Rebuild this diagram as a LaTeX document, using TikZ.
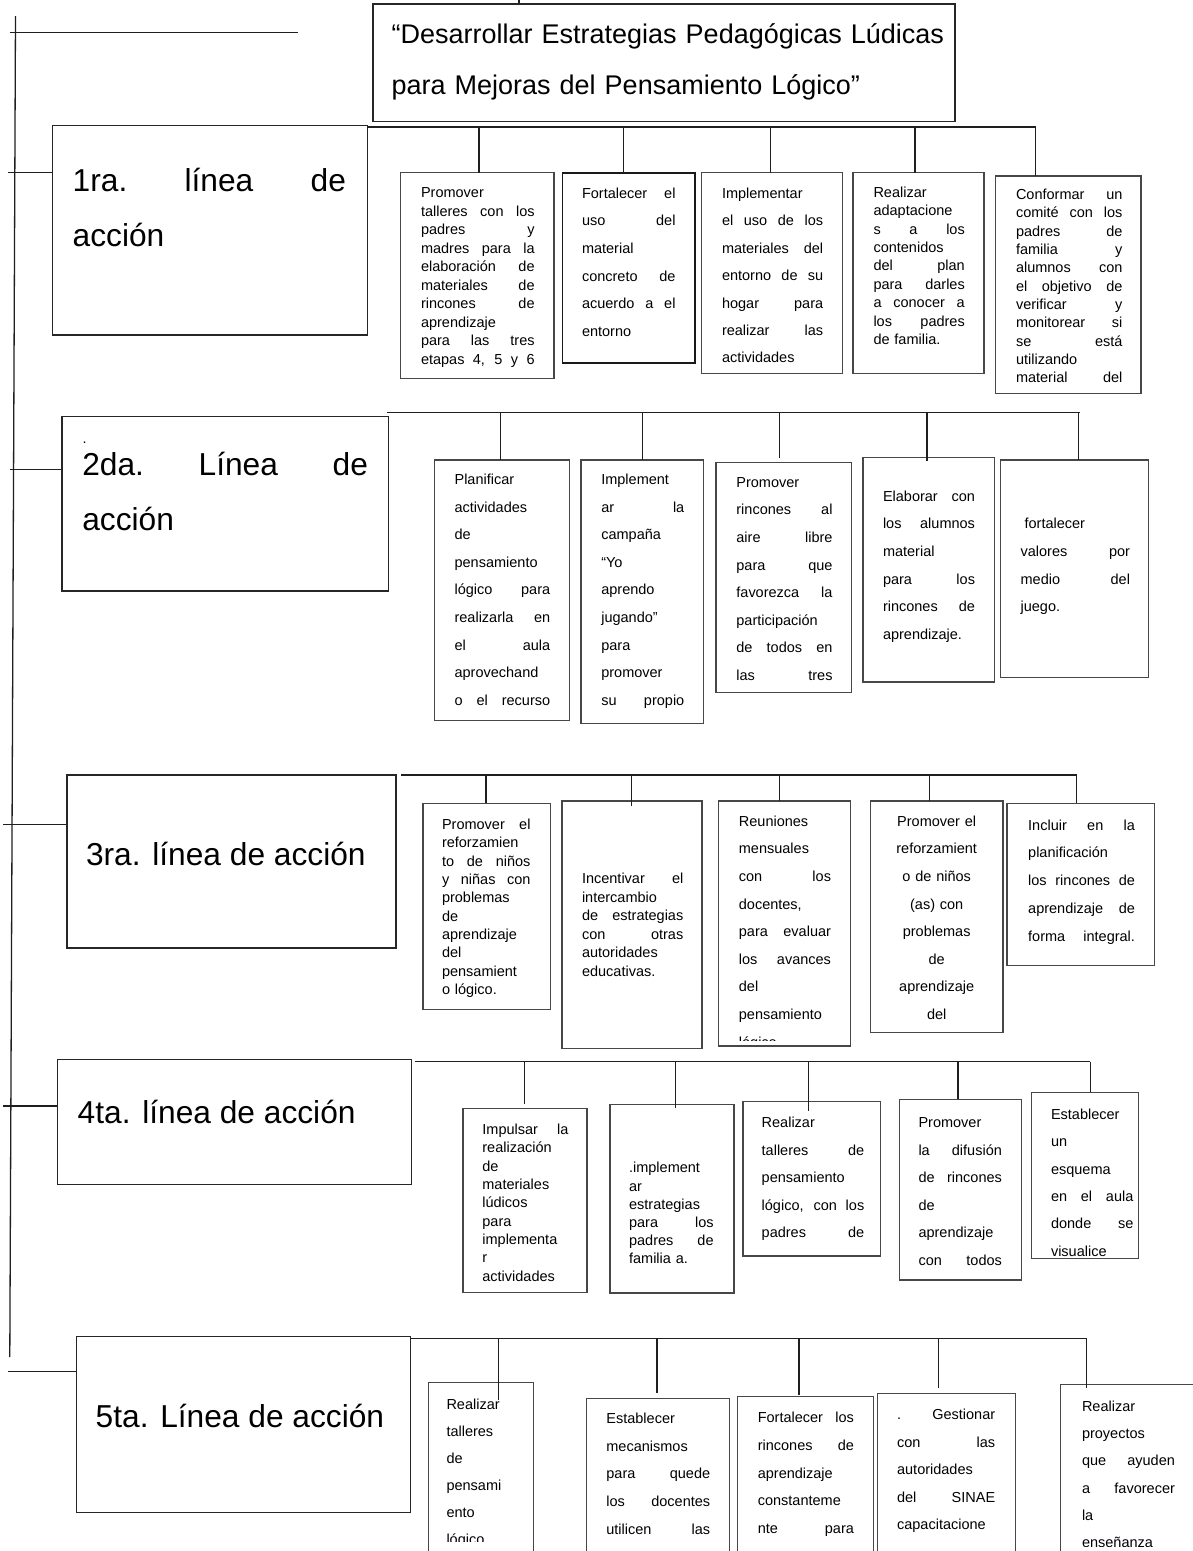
\documentclass[tikz,border=0pt]{standalone}
\usepackage{fontspec}
\setmainfont{Liberation Sans}
\usetikzlibrary{fit}
\newcommand\JL[1]{\leavevmode\hbox to\hsize{\spaceskip=\fontdimen2\font plus 1fil\relax\xspaceskip=\fontdimen2\font plus 1fil\relax #1}}
\tikzset{
  bx/.style={draw=black!72, line width=1.4pt, inner sep=0pt},
  bxk/.style={draw=black!90, line width=1.8pt, inner sep=0pt},
  hbx/.style={draw=black!85, line width=1.4pt, inner sep=0pt},
  cn/.style={draw=black!88, line width=1.3pt},
  tx/.style={inner sep=0pt, outer sep=0pt, anchor=base west, align=left, font=\fontsize{14.5}{#1}\selectfont},
  hx/.style={inner sep=0pt, outer sep=0pt, anchor=base west, align=left, font=\fontsize{31.7}{#1}\selectfont},
}
\begin{document}
\begin{tikzpicture}[x=1pt,y=-1pt]
\useasboundingbox (0,0) rectangle (1193,1551);
\clip (0,0) rectangle (1193,1551);
\fill[white] (0,0) rectangle (1193,1551);

% ---------- title ----------
\node[hbx, fit={(373,4) (955,121.7)}] (T) {};
\node[inner sep=0pt, anchor=base west, align=left, text width=570pt, font=\fontsize{27}{51}\selectfont] (Tt) at (391.5,43.3)
  {“Desarrollar Estrategias Pedagógicas Lúdicas\\ para Mejoras del Pensamiento Lógico”};
\coordinate (tk) at (519.3,0);
\draw[cn, line width=2pt] (tk) -- (tk |- T.north);

% ---------- left spine ----------
\coordinate (tl1) at (9.6,32.7);
\coordinate (tl2) at (297.7,32.7);
\draw[cn] (tl1) -- (tl2);
\coordinate (spT) at (15.5,16);
\coordinate (spB) at (9.8,1357);
\draw[cn] (spT) -- (spB);

% ---------- heading boxes ----------
\node[hbx, fit={(52.4,125.7) (367.4,335)}] (H1) {};
\node[hx=54.3, text width=273.3pt] (H1t) at (72.7,191.7) {\JL{1ra. línea de}\\ acción};
\node[hbx, fit={(62,416.7) (388.4,591)}] (H2) {};
\node[tx=18] (H2d) at (82.5,443) {.};
\node[hx=55, text width=285.7pt] (H2t) at (82.3,475) {\JL{2da. Línea de}\\ acción};
\node[hbx, fit={(67,775) (396,948)}] (H3) {};
\node[hx=38] (H3t) at (86,865) {3ra. línea de acción};
\node[hbx, fit={(57.4,1059.3) (411.4,1184.3)}] (H4) {};
\node[hx=38] (H4t) at (77.7,1123.3) {4ta. línea de acción};
\node[hbx, fit={(76.5,1336.5) (410.3,1512.3)}] (H5) {};
\node[hx=38] (H5t) at (95.7,1427.5) {5ta. Línea de acción};

% stubs from spine
\coordinate (s1) at (7.7,172.7);
\coordinate (s2) at (9.6,469.3);
\coordinate (s3) at (3,824.3);
\coordinate (s4) at (3,1106);
\coordinate (s5) at (7.7,1371.7);
\draw[cn] (s1) -- (s1 -| H1.west);
\draw[cn] (s2) -- (s2 -| H2.west);
\draw[cn] (s3) -- (s3 -| H3.west);
\draw[cn] (s4) -- (s4 -| H4.west);
\draw[cn] (s5) -- (s5 -| H5.west);

% ---------- level 1 ----------
\node[bx, fit={(400.7,172.7) (553.8,378.3)}] (A1) {};
\node[tx=18.5, text width=113.6pt] (A1t) at (421,197.5) {Promover\\ \JL{talleres con los}\\ \JL{padres y}\\ \JL{madres para la}\\ \JL{elaboración de}\\ \JL{materiales de}\\ \JL{rincones de}\\ aprendizaje\\ \JL{para las tres}\\ \JL{etapas 4, 5 y 6}};
\node[bxk, fit={(562.5,172.7) (695.2,363.3)}] (A2) {};
\node[tx=27.67, text width=93.5pt] (A2t) at (582,198) {\JL{Fortalecer el}\\ \JL{uso del}\\ material\\ \JL{concreto de}\\ \JL{acuerdo a el}\\ entorno};
\node[bx, fit={(701.4,172.7) (842.4,373.3)}] (A3) {};
\begin{scope}
\clip (701.4,172.7) rectangle (842.4,363.8);
\node[tx=27.4, text width=101.2pt] (A3t) at (722,198.5) {Implementar\\ \JL{el uso de los}\\ \JL{materiales del}\\ \JL{entorno de su}\\ \JL{hogar para}\\ \JL{realizar las}\\ actividades};
\end{scope}
\node[bx, fit={(852.8,172.7) (984,373.3)}] (A4) {};
\node[tx=18.42, text width=91.3pt] (A4t) at (873.5,197.2) {Realizar\\ adaptacione\\ \JL{s a los}\\ contenidos\\ \JL{del plan}\\ \JL{para darles}\\ \JL{a conocer a}\\ \JL{los padres}\\ de familia.};
\node[bx, fit={(995.3,176) (1141,393.3)}] (A5) {};
\node[tx=18.33, text width=106.4pt] (A5t) at (1016,199.5) {\JL{Conformar un}\\ \JL{comité con los}\\ \JL{padres de}\\ \JL{familia y}\\ \JL{alumnos con}\\ \JL{el objetivo de}\\ \JL{verificar y}\\ \JL{monitorear si}\\ \JL{se está}\\ utilizando\\ \JL{material del}};

\coordinate (L1s) at (367.4,127);
\coordinate (L1e) at (1035.8,127);
\draw[cn] (L1s) -- (L1e);
\coordinate (a1) at (479,172.7);
\coordinate (a2) at (623.6,172.7);
\coordinate (a3) at (770.4,172.7);
\coordinate (a4) at (915,172.7);
\coordinate (a5) at (1035.8,176);
\foreach \c in {a1,a2,a3,a4,a5} \draw[cn] (\c |- L1s) -- (\c);

% ---------- level 2 ----------
\node[bx, fit={(434.4,460) (569.4,720.7)}] (B1) {};
\node[tx=27.6, text width=95.6pt] (B1t) at (454.6,484.5) {Planificar\\ actividades\\ de\\ pensamiento\\ \JL{lógico para}\\ \JL{realizarla en}\\ \JL{el aula}\\ aprovechand\\ \JL{o el recurso}};
\node[bx, fit={(581,460) (703.5,723.3)}] (B2) {};
\node[tx=27.6, text width=83pt] (B2t) at (601.3,484.5) {Implement\\ \JL{ar la}\\ campaña\\ “Yo\\ aprendo\\ jugando”\\ para\\ promover\\ \JL{su propio}};
\node[bx, fit={(716.1,462.3) (851.7,692.7)}] (B3) {};
\node[tx=27.6, text width=96.1pt] (B3t) at (736.4,487.2) {Promover\\ \JL{rincones al}\\ \JL{aire libre}\\ \JL{para que}\\ \JL{favorezca la}\\ participación\\ \JL{de todos en}\\ \JL{las tres}};
\node[bx, fit={(862.8,457.3) (994.3,682)}] (B4) {};
\node[tx=27.67, text width=92pt] (B4t) at (883,501.2) {\JL{Elaborar con}\\ \JL{los alumnos}\\ material\\ \JL{para los}\\ \JL{rincones de}\\ aprendizaje.};
\node[bx, fit={(1000.4,460) (1148.6,677.3)}] (B5) {};
\node[tx=27.8, text width=109.4pt] (B5t) at (1020.6,528.5) {\hspace*{4pt}fortalecer\\ \JL{valores por}\\ \JL{medio del}\\ juego.};

\coordinate (L2s) at (386.5,412.3);
\coordinate (L2e) at (1080.3,412.3);
\draw[cn] (L2s) -- (L2e);
\coordinate (b1) at (500.7,460);
\coordinate (b2) at (642.8,460);
\coordinate (b3) at (779.4,458.3);
\coordinate (b4) at (927,460.7);
\coordinate (b5) at (1078.8,460);
\foreach \c in {b1,b2,b3,b4,b5} \draw[cn] (\c |- L2s) -- (\c);

% ---------- level 3 ----------
\node[bx, fit={(422.8,803.3) (550.2,1009.3)}] (C1) {};
\node[tx=18.33, text width=88.5pt] (C1t) at (442,829.5) {\JL{Promover el}\\ reforzamien\\ \JL{to de niños}\\ \JL{y niñas con}\\ problemas\\ de\\ aprendizaje\\ del\\ pensamient\\ o lógico.};
\node[bx, fit={(561.9,801) (702,1048.3)}] (C2) {};
\node[tx=18.47, text width=101.3pt] (C2t) at (582,883.8) {\JL{Incentivar el}\\ intercambio\\ \JL{de estrategias}\\ \JL{con otras}\\ autoridades\\ educativas.};
\node[bx, fit={(718.7,801) (850.2,1046)}] (C3) {};
\begin{scope}
\clip (718.7,801) rectangle (850.2,1040.5);
\node[tx=27.62, text width=92.1pt] (C3t) at (738.9,826.2) {Reuniones\\ mensuales\\ \JL{con los}\\ docentes,\\ \JL{para evaluar}\\ \JL{los avances}\\ del\\ pensamiento\\ lógico.};
\end{scope}
\node[bx, fit={(870.4,801) (1003,1032.3)}] (C4) {};
\node[tx=27.62, text width=112pt, align=center] (C4t) at (880.7,826.2) {Promover el\\ reforzamient\\ o de niños\\ (as) con\\ problemas\\ de\\ aprendizaje\\ del};
\node[bx, fit={(1007,803.3) (1154.7,965.7)}] (C5) {};
\node[tx=27.75, text width=106.8pt] (C5t) at (1028.2,830.2) {\JL{Incluir en la}\\ planificación\\ \JL{los rincones de}\\ \JL{aprendizaje de}\\ \JL{forma integral.}};

\coordinate (L3s) at (401,775);
\coordinate (L3e) at (1076.8,775);
\draw[cn] (L3s) -- (L3e);
\coordinate (c1) at (486,803.3);
\coordinate (c2) at (631.2,806);
\coordinate (c3) at (779.4,801);
\coordinate (c4) at (929.6,801);
\coordinate (c5) at (1076.8,803.3);
\foreach \c in {c1,c2,c3,c4,c5} \draw[cn] (\c |- L3s) -- (\c);

% ---------- level 4 ----------
\node[bx, fit={(462.8,1108.3) (586.9,1292.5)}] (D1) {};
\node[tx=18.33, text width=86pt] (D1t) at (482.4,1134.5) {\JL{Impulsar la}\\ realización\\ de\\ materiales\\ lúdicos\\ para\\ implementa\\ r\\ actividades};
\node[bx, fit={(610,1104.3) (733.8,1293)}] (D2) {};
\node[tx=18.2, text width=84.5pt] (D2t) at (629.1,1172.8) {.implement\\ ar\\ estrategias\\ \JL{para los}\\ \JL{padres de}\\ familia a.};
\node[bx, fit={(743,1101.7) (880.5,1256)}] (D3) {};
\node[tx=27.5, text width=102.6pt] (D3t) at (761.7,1127.8) {Realizar\\ \JL{talleres de}\\ pensamiento\\ \JL{lógico, con los}\\ \JL{padres de}};
\node[bx, fit={(899.2,1099.3) (1021.2,1280)}] (D4) {};
\node[tx=27.5, text width=83.4pt] (D4t) at (918.5,1127.8) {Promover\\ \JL{la difusión}\\ \JL{de rincones}\\ de\\ aprendizaje\\ \JL{con todos}};
\node[bx, fit={(1031.3,1092.3) (1138.5,1258.3)}] (D5) {};
\node[tx=27.3, text width=82.4pt] (D5t) at (1051,1119.5) {Establecer\\ un\\ esquema\\ \JL{en el aula}\\ \JL{donde se}\\ visualice};

\coordinate (L4s) at (415.2,1061.7);
\coordinate (L4e) at (1090.4,1061.7);
\draw[cn] (L4s) -- (L4e);
\coordinate (d1) at (524.2,1104.3);
\coordinate (d2) at (675.7,1108);
\coordinate (d3) at (808.7,1111);
\coordinate (d4) at (957.9,1099.3);
\coordinate (d5) at (1090.4,1092.3);
\foreach \c in {d1,d2,d3,d4,d5} \draw[cn] (\c |- L4s) -- (\c);

% ---------- level 5 ----------
\node[bx, fit={(428.6,1382.3) (533.2,1600)}] (E1) {};
\begin{scope}
\clip (428.6,1382.3) rectangle (533.2,1541.7);
\node[tx=27, text width=75pt] (E1t) at (446.5,1409) {Realizar\\ talleres\\ de\\ pensami\\ ento\\ lógico};
\end{scope}
\node[bx, fit={(586.2,1398.3) (729.6,1600)}] (E2) {};
\node[tx=27.7, text width=103.8pt] (E2t) at (606.4,1423.5) {Establecer\\ mecanismos\\ \JL{para quede}\\ \JL{los docentes}\\ \JL{utilicen las}};
\node[bx, fit={(737.6,1396.7) (873.7,1600)}] (E3) {};
\node[tx=27.9, text width=96.1pt] (E3t) at (757.8,1422.2) {\JL{Fortalecer los}\\ \JL{rincones de}\\ aprendizaje\\ constanteme\\ \JL{nte para}};
\node[bx, fit={(877.7,1393.3) (1015.4,1600)}] (E4) {};
\node[tx=27.5, text width=98.1pt] (E4t) at (897.1,1419.5) {\JL{. Gestionar}\\ \JL{con las}\\ autoridades\\ \JL{del SINAE}\\ capacitacione};
\node[bx, fit={(1060.6,1384.3) (1215,1600)}] (E5) {};
\begin{scope}
\clip (1060.6,1384.3) rectangle (1193,1546);
\node[tx=27.2, text width=92.9pt] (E5t) at (1082,1411.5) {Realizar\\ proyectos\\ \JL{que ayuden}\\ \JL{a favorecer}\\ la\\ enseñanza};
\end{scope}

\coordinate (L5s) at (410.3,1338.5);
\coordinate (L5e) at (1086.8,1338.5);
\draw[cn] (L5s) -- (L5e);
\coordinate (e1) at (498.3,1400);
\coordinate (e2) at (656.9,1392.7);
\coordinate (e3) at (799,1395);
\coordinate (e4) at (938.7,1388.3);
\coordinate (e5) at (1086.8,1388.3);
\foreach \c in {e1,e2,e3,e4,e5} \draw[cn] (\c |- L5s) -- (\c);
\end{tikzpicture}
\end{document}
